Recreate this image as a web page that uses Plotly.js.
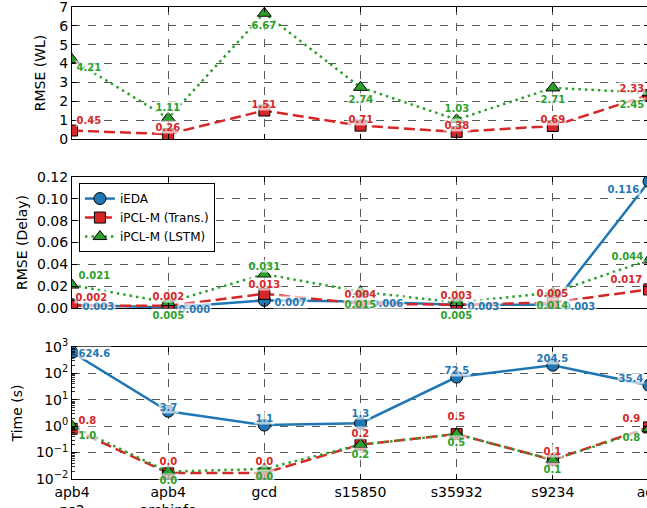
<!DOCTYPE html>
<html>
<head>
<meta charset="utf-8">
<script src="https://cdn.plot.ly/plotly-3.0.1.min.js"></script>
<style>
  html, body { margin: 0; padding: 0; overflow: hidden; background: #fff; }
  #chart { width: 649px; height: 508px; }
</style>
</head>
<body>
<div id="chart"></div>
<script>
// Benchmark designs (x axis)
const designs = ['apb4<br>ps2', 'apb4<br>archinfo', 'gcd', 's15850', 's35932', 's9234', 'aes'];

// RMSE of wirelength
const wlTrans = [0.45, 0.26, 1.51, 0.71, 0.38, 0.69, 2.33];
const wlLstm  = [4.21, 1.11, 6.67, 2.74, 1.03, 2.71, 2.45];

// RMSE of delay
const delayIeda  = [0.003, 0.0004, 0.007, 0.006, 0.003, 0.003, 0.116];
const delayTrans = [0.002, 0.002, 0.013, 0.004, 0.003, 0.005, 0.017];
const delayLstm  = [0.021, 0.005, 0.031, 0.015, 0.005, 0.014, 0.044];

// Runtime in seconds
const timeIeda  = [624.6, 3.7, 1.1, 1.3, 72.5, 204.5, 35.4];
const timeTrans = [0.8, 0.017, 0.017, 0.2, 0.5, 0.053, 0.9];
const timeLstm  = [1.0, 0.019, 0.024, 0.2, 0.5, 0.053, 0.8];

// Value-label placement (pixel shifts: dx sign picks the text anchor, dy > 0 is up)
const labelShift = {
  wlTrans:    { dx: [3, 0, 0, 0, 0, 0, -3], dy: [11, 7, 7, 7, 7, 7, 7] },
  wlLstm:     { dx: [3, 0, 0, 0, 0, 0, -3], dy: [-7.5, 11, -12, -12, 11.5, -11.5, -11] },
  delayIeda:  { dx: [9, 9, 9, 9, 9, 9, -8], dy: [-1.5, -1.5, -1.5, -1.5, -1.5, -1.5, -8] },
  delayTrans: { dx: [2, 0, 0, 0, 0, 0, -5], dy: [9, 10, 10, 10, 10, 10, 10] },
  delayLstm:  { dx: [5, 0, 0, 0, 0, 0, -4], dy: [10, -12, 8, -12, -12, -12, 4] },
  timeIeda:   { dx: [5, 0, 0, 0, 0, 0, -4], dy: [-1, 4, 7, 10, 7.5, 7.5, 7] },
  timeTrans:  { dx: [5, 0, 0, 0, 0, 0, -7], dy: [9, 12, 12, 12, 18.5, 9, 9] },
  timeLstm:   { dx: [5, 0, 0, 0, 0, 0, -7], dy: [-9, -8, -7, -9, -8, -9, -8] }
};

const FONT = 'DejaVu Sans, Liberation Sans, sans-serif';
const BLUE = '#1f77b4', RED = '#d62728', GREEN = '#2ca02c';

const styles = {
  ieda:  { name: 'iEDA', color: BLUE, dash: 'solid', symbol: 'circle', size: 12 },
  trans: { name: 'iPCL-M (Trans.)', color: RED, dash: '11px,5px', symbol: 'square', size: 11 },
  lstm:  { name: 'iPCL-M (LSTM)', color: GREEN, dash: '2.5px,4px', symbol: 'triangle-up', size: 12 }
};

function series(key, values, xa, ya, showlegend) {
  const s = styles[key];
  return {
    type: 'scatter', mode: 'lines+markers',
    x: designs.map((d, i) => i), y: values,
    xaxis: xa, yaxis: ya,
    name: s.name, legendgroup: key, showlegend: showlegend,
    line: { color: s.color, width: 2.5, dash: s.dash },
    marker: { symbol: s.symbol, size: s.size, color: s.color, line: { color: '#000', width: 1 } },
    hoverinfo: 'skip'
  };
}

const annotations = [];
function labels(values, shiftKey, color, digits, xref, yref, isLog) {
  const sh = labelShift[shiftKey];
  values.forEach((v, i) => {
    const dx = sh.dx[i];
    annotations.push({
      x: i, y: isLog ? Math.log10(v) : v, xref: xref, yref: yref,
      text: '<b>' + v.toFixed(digits) + '</b>', showarrow: false,
      xanchor: dx > 0 ? 'left' : (dx < 0 ? 'right' : 'center'),
      yanchor: 'middle', xshift: dx, yshift: sh.dy[i],
      font: { family: FONT, size: 10, color: color },
      bgcolor: 'rgba(255,255,255,0.65)', borderpad: 0.5
    });
  });
}

const data = [
  series('trans', wlTrans, 'x', 'y', false),
  series('lstm', wlLstm, 'x', 'y', false),
  series('ieda', delayIeda, 'x2', 'y2', true),
  series('trans', delayTrans, 'x2', 'y2', true),
  series('lstm', delayLstm, 'x2', 'y2', true),
  series('ieda', timeIeda, 'x3', 'y3', false),
  series('trans', timeTrans, 'x3', 'y3', false),
  series('lstm', timeLstm, 'x3', 'y3', false)
];

labels(wlTrans, 'wlTrans', RED, 2, 'x', 'y', false);
labels(wlLstm, 'wlLstm', GREEN, 2, 'x', 'y', false);
labels(delayIeda, 'delayIeda', BLUE, 3, 'x2', 'y2', false);
labels(delayTrans, 'delayTrans', RED, 3, 'x2', 'y2', false);
labels(delayLstm, 'delayLstm', GREEN, 3, 'x2', 'y2', false);
labels(timeIeda, 'timeIeda', BLUE, 1, 'x3', 'y3', true);
labels(timeTrans, 'timeTrans', RED, 1, 'x3', 'y3', true);
labels(timeLstm, 'timeLstm', GREEN, 1, 'x3', 'y3', true);

const tickFont = { family: FONT, size: 14, color: '#000' };
const gridCommon = {
  showgrid: true, gridcolor: '#595959', gridwidth: 1.2, griddash: '8px,8px',
  showline: true, linecolor: '#000', linewidth: 1, mirror: 'ticks',
  ticks: 'inside', ticklen: 5, tickcolor: '#000', tickwidth: 1,
  zeroline: false, tickfont: tickFont, ticklabeloverflow: 'allow'
};

function xAxis(anchor, showLabels) {
  return Object.assign({}, gridCommon, {
    anchor: anchor, domain: [0, 1], range: [0, designs.length - 1],
    tickmode: 'array', tickvals: designs.map((d, i) => i), ticktext: designs,
    showticklabels: showLabels, fixedrange: true
  });
}

// Log-scale ticks for the runtime panel
const decades = [-2, -1, 0, 1, 2, 3];
const logTickVals = decades.map(e => Math.pow(10, e));
const logTickText = decades.map(e => '10<sup>' + (e < 0 ? '\u2212' + (-e) : e) + '</sup>');
const minorVals = [];
decades.slice(0, -1).forEach(e => { for (let m = 2; m <= 9; m++) minorVals.push(m * Math.pow(10, e)); });

const layout = {
  width: 649, height: 508,
  margin: { l: 72, r: 0, t: 7, b: 29 },
  paper_bgcolor: '#fff', plot_bgcolor: '#fff',
  font: { family: FONT, color: '#000' },
  xaxis: xAxis('y', false),
  xaxis2: xAxis('y2', false),
  xaxis3: xAxis('y3', true),
  yaxis: Object.assign({}, gridCommon, {
    domain: [0.7203, 1], range: [0, 7], dtick: 1, tick0: 0,
    title: { text: 'RMSE (WL)', font: { family: FONT, size: 14 }, standoff: 10 }
  }),
  yaxis2: Object.assign({}, gridCommon, {
    domain: [0.3623, 0.6398], range: [0, 0.12], dtick: 0.02, tick0: 0, tickformat: '.2f',
    title: { text: 'RMSE (Delay)', font: { family: FONT, size: 14 }, standoff: 6 }
  }),
  yaxis3: Object.assign({}, gridCommon, {
    domain: [0, 0.2797], type: 'log', range: [-2, 3],
    tickmode: 'array', tickvals: logTickVals, ticktext: logTickText,
    minor: { tickmode: 'array', tickvals: minorVals, ticks: 'inside', ticklen: 2.5,
             tickcolor: '#000', tickwidth: 0.8, showgrid: false },
    title: { text: 'Time (s)', font: { family: FONT, size: 14 }, standoff: 10 }
  }),
  legend: {
    x: 0.012, y: 0.627, xanchor: 'left', yanchor: 'top',
    bgcolor: '#fff', bordercolor: '#000', borderwidth: 1,
    font: { family: FONT, size: 12, color: '#000' },
    itemwidth: 30, tracegroupgap: 0
  },
  annotations: annotations,
  showlegend: true,
  hovermode: false
};

Plotly.newPlot('chart', data, layout, { staticPlot: true, displayModeBar: false });
</script>
</body>
</html>
